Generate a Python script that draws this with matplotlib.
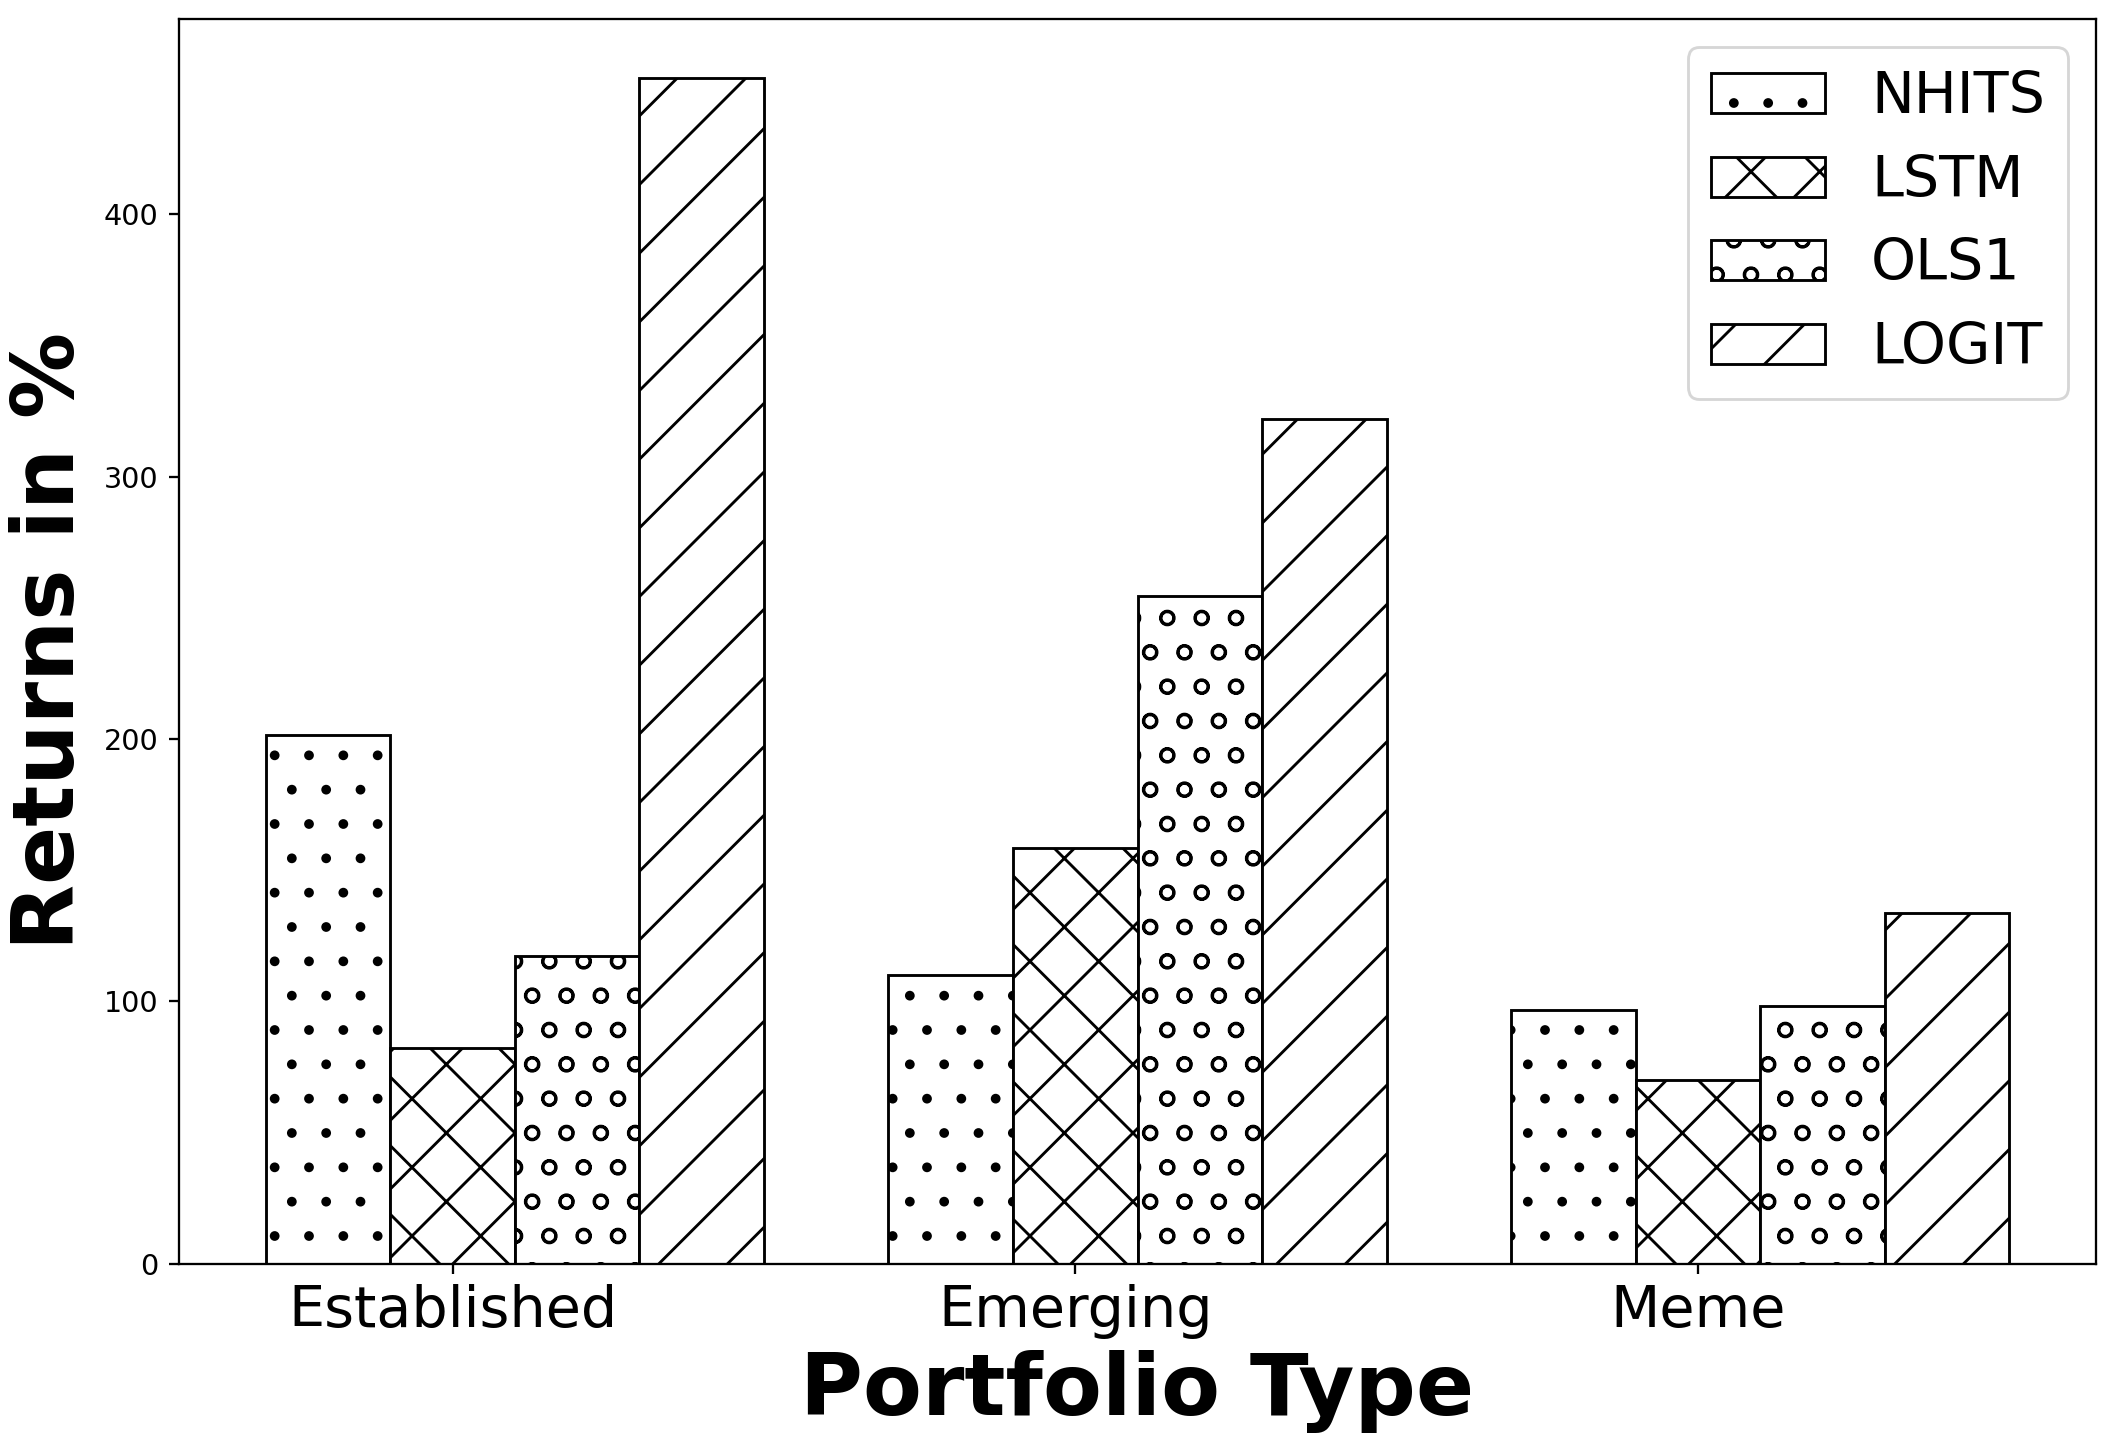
import numpy as np
import matplotlib
matplotlib.use("Agg")
import matplotlib.pyplot as plt

categories = ["Established", "Emerging", "Meme"]
models = ["NHITS", "LSTM", "OLS1", "LOGIT"]
nhits = [201.4, 110.0, 96.7]
lstm = [82.1, 158.6, 70.1]
ols1 = [117.2, 254.5, 98.4]
logit = [452.0, 322.0, 133.6]
hatches = [".", "x", "o", "/"]

series = [nhits, lstm, ols1, logit]

DPI = 206
fig = plt.figure(figsize=(2113 / DPI, 1455 / DPI), dpi=DPI)
ax = fig.add_axes([0.0845, 0.1314, 0.99219 - 0.0845, 0.98722 - 0.1314])

x = np.arange(len(categories))
width = 0.2
for i, (vals, name, h) in enumerate(zip(series, models, hatches)):
    ax.bar(x + (i - 1) * width, vals, width, label=name, color="white",
           edgecolor="black", hatch=h, linewidth=1.0)

ax.set_xticks(x)
ax.set_xticklabels(categories, fontsize=20)
ax.tick_params(axis="y", labelsize=10)
ax.set_xlabel("Portfolio Type", fontsize=30, fontweight="bold")
ax.set_ylabel("Returns in %", fontsize=30, fontweight="bold")
ax.legend(fontsize=20, loc="upper right")

fig.savefig("out.png", dpi=DPI)
